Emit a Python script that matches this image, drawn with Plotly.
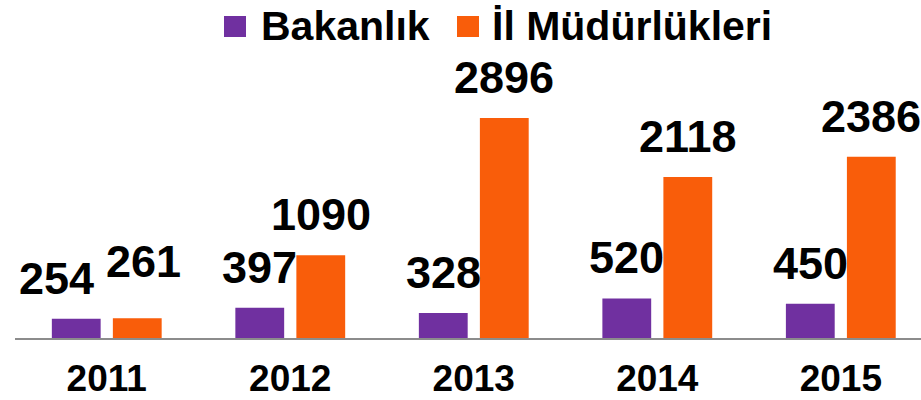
import plotly.graph_objects as go

years = ["2011", "2012", "2013", "2014", "2015"]
bakanlik = [254, 397, 328, 520, 450]
il_mudurlukleri = [261, 1090, 2896, 2118, 2386]
series_names = ["Bakanlık", "İl Müdürlükleri"]

PURPLE = "#7030A0"
ORANGE = "#F95D0A"
FONT = "Liberation Sans, Arial, sans-serif"

W, H = 921, 400
ML, MR, MT, MB = 15, 0, 0, 62
PW, PH = W - ML - MR, H - MT - MB

def px_x(p):  # page pixel -> paper x
    return (p - ML) / PW

def px_y(p):  # page pixel -> paper y
    return (H - MB - p) / PH

# manual label nudges (px) for crowded labels: (series index, year) -> (dx, dy)
nudges = {(0, "2011"): (-20, 0), (1, "2011"): (6, 16)}

fig = go.Figure()
for vals, name, col in [(bakanlik, series_names[0], PURPLE),
                        (il_mudurlukleri, series_names[1], ORANGE)]:
    fig.add_trace(go.Bar(x=years, y=vals, name=name, showlegend=False,
                         marker=dict(color=col, line=dict(width=0))))

slot_px = 30.5
annotations = []
for si, vals in enumerate([bakanlik, il_mudurlukleri]):
    for i, (yr, v) in enumerate(zip(years, vals)):
        dx, dy = nudges.get((si, yr), (0, 0))
        annotations.append(dict(
            x=i, y=v, xref="x", yref="y", text=f"<b>{v}</b>", showarrow=False,
            yanchor="bottom", xanchor="center",
            xshift=(-slot_px if si == 0 else slot_px) + dx, yshift=13 + dy,
            font=dict(family=FONT, size=45, color="black")))

# custom legend (large square swatches)
legend_items = [(series_names[0], PURPLE, 224, 259), (series_names[1], ORANGE, 457, 490)]
shapes = []
for name, col, sq_x, tx_x in legend_items:
    shapes.append(dict(type="rect", xref="paper", yref="paper",
                       x0=px_x(sq_x), x1=px_x(sq_x + 22), y0=px_y(37), y1=px_y(16),
                       fillcolor=col, line=dict(width=0)))
    annotations.append(dict(x=px_x(tx_x), y=px_y(26), xref="paper", yref="paper",
                            xanchor="left", yanchor="middle", showarrow=False,
                            text=f"<b>{name}</b>",
                            font=dict(family=FONT, size=41, color="black")))

fig.update_layout(
    width=W, height=H,
    margin=dict(l=ML, r=MR, t=MT, b=MB, autoexpand=False),
    paper_bgcolor="white", plot_bgcolor="white",
    barmode="group", bargap=0.335, bargroupgap=0.2,
    showlegend=False,
    annotations=annotations, shapes=shapes,
    xaxis=dict(type="category", range=[-0.5, 4.437], showgrid=False,
               showline=True, linecolor="#8C8C8C", linewidth=2, automargin=False,
               ticks="", ticklabelstandoff=7,
               tickfont=dict(family=FONT, size=37, color="black", weight="bold")),
    yaxis=dict(range=[0, 4447], visible=False, showgrid=False, zeroline=False,
               automargin=False),
)

fig.write_html("out.html", config={"displayModeBar": False},
               post_script="document.body.style.margin='0';document.body.style.overflow='hidden';")
